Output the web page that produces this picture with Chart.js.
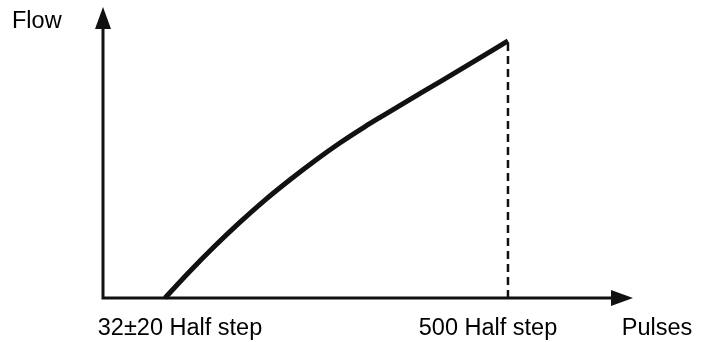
<!DOCTYPE html>
<html>
<head>
<meta charset="utf-8">
<script src="https://cdn.jsdelivr.net/npm/chart.js@4"></script>
<style>
  html, body { margin: 0; padding: 0; background: #ffffff; }
  #wrap { width: 704px; height: 342px; position: relative; }
</style>
</head>
<body>
<div id="wrap"><canvas id="c" width="704" height="342"></canvas></div>
<script>
// ---- data ----
const pulses = [32, 66, 100, 134, 168, 203, 237, 271, 305, 325, 366, 407, 448, 500];
const flow   = [0, 10.4, 20.2, 29.4, 38.0, 46.1, 53.5, 60.4, 66.7, 70.2, 77.2, 84.1, 91.1, 100];
const tickValues = [32, 500];
const tickLabels = ["32\u00B120 Half step", "500 Half step"];
const xTitle = "Pulses";
const yTitle = "Flow";
const xRange = [-52.6, 670.6];
const yRange = [0, 113.2];

const curve = pulses.map((p, i) => ({ x: p, y: flow[i] }));
const lastX = pulses[pulses.length - 1];
const lastY = flow[flow.length - 1];
const dashed = [{ x: lastX, y: 0 }, { x: lastX, y: lastY }];

const FONT = '23.5px "Liberation Sans", Arial, sans-serif';
const INK = '#111111';

const axesPlugin = {
  id: 'arrowAxes',
  beforeDatasetsDraw(chart) {
    const ctx = chart.ctx;
    const xs = chart.scales.x, ys = chart.scales.y;
    const ox = xs.getPixelForValue(xRange[0]);
    const oy = ys.getPixelForValue(0);
    const topY = ys.getPixelForValue(yRange[1]);
    const rightX = xs.getPixelForValue(xRange[1]);
    const headLen = 22, headHalf = 8;
    ctx.save();
    ctx.strokeStyle = INK;
    ctx.fillStyle = INK;
    ctx.lineWidth = 3;
    ctx.beginPath();
    ctx.moveTo(ox, oy);
    ctx.lineTo(ox, topY + headLen - 2);
    ctx.moveTo(ox - 1.5, oy);
    ctx.lineTo(rightX - headLen + 2, oy);
    ctx.stroke();
    // y arrow head
    ctx.beginPath();
    ctx.moveTo(ox, topY);
    ctx.lineTo(ox - headHalf, topY + headLen);
    ctx.lineTo(ox + headHalf, topY + headLen);
    ctx.closePath();
    ctx.fill();
    // x arrow head
    ctx.beginPath();
    ctx.moveTo(rightX, oy);
    ctx.lineTo(rightX - headLen, oy - headHalf);
    ctx.lineTo(rightX - headLen, oy + headHalf);
    ctx.closePath();
    ctx.fill();
    ctx.restore();
  },
  afterDraw(chart) {
    const ctx = chart.ctx;
    const xs = chart.scales.x, ys = chart.scales.y;
    const oy = ys.getPixelForValue(0);
    const rightX = xs.getPixelForValue(xRange[1]);
    const topY = ys.getPixelForValue(yRange[1]);
    ctx.save();
    ctx.fillStyle = '#000000';
    ctx.font = FONT;
    ctx.textBaseline = 'alphabetic';
    const base = oy + 37;
    // tick labels
    const offsets = [15, -20];
    ctx.textAlign = 'center';
    tickValues.forEach((v, i) => {
      ctx.fillText(tickLabels[i], xs.getPixelForValue(v) + offsets[i], base);
    });
    // axis titles
    ctx.fillText(xTitle, rightX + 24, base);
    ctx.textAlign = 'left';
    ctx.fillText(yTitle, 12, topY + 21);
    ctx.restore();
  }
};

new Chart(document.getElementById('c'), {
  type: 'line',
  data: {
    datasets: [
      {
        data: curve,
        borderColor: INK,
        borderWidth: 5,
        pointRadius: 0,
        cubicInterpolationMode: 'monotone',
        fill: false,
        clip: false
      },
      {
        data: dashed,
        borderColor: INK,
        borderWidth: 2.5,
        borderDash: [8, 5],
        pointRadius: 0,
        fill: false,
        clip: false
      }
    ]
  },
  options: {
    responsive: false,
    animation: false,
    events: [],
    layout: { padding: { left: 103, right: 71, top: 7, bottom: 44 } },
    plugins: { legend: { display: false }, tooltip: { enabled: false } },
    scales: {
      x: { type: 'linear', min: xRange[0], max: xRange[1], display: false },
      y: { type: 'linear', min: yRange[0], max: yRange[1], display: false }
    }
  },
  plugins: [axesPlugin]
});
</script>
</body>
</html>
